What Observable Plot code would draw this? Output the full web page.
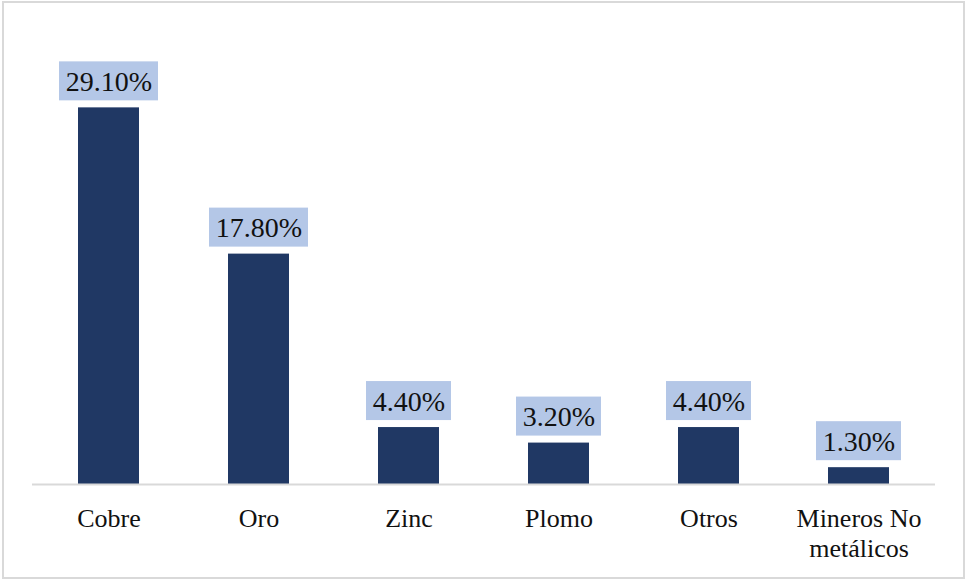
<!DOCTYPE html>
<html>
<head>
<meta charset="utf-8">
<script src="https://cdn.jsdelivr.net/npm/d3@7"></script>
<script src="https://cdn.jsdelivr.net/npm/@observablehq/plot@0.6"></script>
<style>
  html, body { margin: 0; padding: 0; background: #fff; }
  #wrap { position: relative; width: 966px; height: 579px; overflow: hidden; }
  #frame { position: absolute; left: 2px; top: 1px; width: 959px; height: 574px; border: 2px solid #d9d9d9; pointer-events: none; }
</style>
</head>
<body>
<div id="wrap"><div id="frame"></div></div>
<script>
const categories = ["Cobre", "Oro", "Zinc", "Plomo", "Otros", "Mineros No\nmetálicos"];
const values = [29.1, 17.8, 4.4, 3.2, 4.4, 1.3];
const labels = ["29.10%", "17.80%", "4.40%", "3.20%", "4.40%", "1.30%"];

const data = categories.map((c, i) => ({category: c, value: values[i], label: labels[i]}));
const wide = data.filter(d => d.label.length > 5);
const narrow = data.filter(d => d.label.length <= 5);

const navy = "#203864";
const lightBlue = "#b4c7e7";
const serif = "'Liberation Serif', 'Times New Roman', serif";

const chart = Plot.plot({
  width: 966,
  height: 579,
  marginLeft: 32,
  marginRight: 31,
  marginTop: 31,
  marginBottom: 95,
  style: `font-family: ${serif}; background: transparent;`,
  x: {domain: categories, paddingInner: 0.595, paddingOuter: 0.2975, align: 0.5},
  y: {domain: [0, 35], axis: null},
  marks: [
    Plot.barY(data, {x: "category", y: "value", fill: navy}),
    Plot.ruleY([0], {stroke: "#d9d9d9", strokeWidth: 2}),
    Plot.barY(wide, {x: "category", y1: "value", y2: "value", fill: lightBlue,
      insetTop: -46, insetBottom: 7, insetLeft: -19, insetRight: -19}),
    Plot.barY(narrow, {x: "category", y1: "value", y2: "value", fill: lightBlue,
      insetTop: -46, insetBottom: 7, insetLeft: -12, insetRight: -12}),
    Plot.text(data, {x: "category", y: "value", text: "label", dy: -26,
      fontSize: 28, fill: "#111", lineAnchor: "middle", fontFamily: serif}),
    Plot.axisX({tickSize: 0, tickPadding: 21, fontSize: 26, lineHeight: 1.15,
      label: null, color: "#111", fontFamily: serif})
  ]
});
document.getElementById("wrap").insertBefore(chart, document.getElementById("frame"));
</script>
</body>
</html>
